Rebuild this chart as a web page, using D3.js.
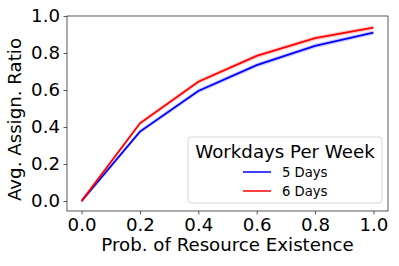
<!DOCTYPE html>
<html>
<head>
<meta charset="utf-8">
<script src="https://cdn.jsdelivr.net/npm/d3@7"></script>
<style>
  body { margin: 0; background: #fff; }
  text { font-family: "DejaVu Sans", sans-serif; fill: #000; }
</style>
</head>
<body>
<div id="chart"></div>
<script>
// Data.
const probs = [0.0, 0.2, 0.4, 0.6, 0.8, 1.0];
const days5 = [0.0, 0.375, 0.595, 0.734, 0.838, 0.91];
const days6 = [0.0, 0.42, 0.645, 0.784, 0.88, 0.937];
const band = 0.012;
const xTicks = [0.0, 0.2, 0.4, 0.6, 0.8, 1.0];
const yTicks = [0.0, 0.2, 0.4, 0.6, 0.8, 1.0];
const seriesNames = ["5 Days", "6 Days"];
const seriesColors = ["#0000ff", "#ff0000"];

const width = 399, height = 266;
const margin = { top: 16, right: 11, bottom: 55, left: 67 };
const chartWidth = width - margin.left - margin.right;
const chartHeight = height - margin.top - margin.bottom;
const fontSize = "18.2px";

const svg = d3.select("#chart").append("svg")
  .attr("width", width)
  .attr("height", height);

const g = svg.append("g")
  .attr("transform", `translate(${margin.left}, ${margin.top})`);

const x = d3.scaleLinear().domain([-0.05, 1.05]).range([0, chartWidth]);
const y = d3.scaleLinear().domain([-0.054, 1.0]).range([chartHeight, 0]);

// confidence bands + lines
[days5, days6].forEach((vals, i) => {
  const rows = probs.map((p, j) => ({ p, v: vals[j] }));
  const area = d3.area()
    .x(d => x(d.p))
    .y0(d => y(d.v - band))
    .y1(d => y(d.v + band));
  g.append("path")
    .datum(rows)
    .attr("d", area)
    .attr("fill", seriesColors[i])
    .attr("opacity", 0.2);
  g.append("path")
    .datum(rows)
    .attr("d", d3.line().x(d => x(d.p)).y(d => y(d.v)))
    .attr("fill", "none")
    .attr("stroke", seriesColors[i])
    .attr("stroke-width", 1.8);
});

// axes
const xAxis = g.append("g")
  .attr("transform", `translate(0, ${chartHeight})`)
  .call(d3.axisBottom(x).tickValues(xTicks).tickFormat(d3.format(".1f")).tickSize(3.5).tickPadding(3.5));
const yAxis = g.append("g")
  .call(d3.axisLeft(y).tickValues(yTicks).tickFormat(d3.format(".1f")).tickSize(3.5).tickPadding(3.5));
[xAxis, yAxis].forEach(a => {
  a.select(".domain").remove();
  a.selectAll("line").attr("stroke", "#333").attr("stroke-width", 0.8);
  a.selectAll("text").attr("font-size", fontSize).attr("font-family", "DejaVu Sans, sans-serif").attr("fill", "#000");
});

// frame
g.append("rect")
  .attr("width", chartWidth)
  .attr("height", chartHeight)
  .attr("fill", "none")
  .attr("stroke", "#333")
  .attr("stroke-width", 0.8);

// axis labels
svg.append("text")
  .attr("x", margin.left + chartWidth / 2)
  .attr("y", 251)
  .attr("text-anchor", "middle")
  .attr("font-size", fontSize)
  .text("Prob. of Resource Existence");

svg.append("text")
  .attr("transform", `translate(21, ${margin.top + chartHeight / 2 + 6}) rotate(-90)`)
  .attr("text-anchor", "middle")
  .attr("font-size", fontSize)
  .text("Avg. Assign. Ratio");

// legend
const legend = svg.append("g").attr("transform", "translate(188, 137)");
legend.append("rect")
  .attr("width", 194)
  .attr("height", 66)
  .attr("rx", 3)
  .attr("fill", "#fff")
  .attr("fill-opacity", 0.8)
  .attr("stroke", "#ccc")
  .attr("stroke-width", 0.8);
legend.append("text")
  .attr("x", 97)
  .attr("y", 21)
  .attr("text-anchor", "middle")
  .attr("font-size", fontSize)
  .text("Workdays Per Week");
seriesNames.forEach((name, i) => {
  const yy = 35 + i * 19;
  legend.append("line")
    .attr("x1", 55).attr("x2", 83)
    .attr("y1", yy).attr("y2", yy)
    .attr("stroke", seriesColors[i])
    .attr("stroke-width", 1.5);
  legend.append("text")
    .attr("x", 94)
    .attr("y", yy + 4.5)
    .attr("font-size", "13.2px")
    .text(name);
});
</script>
</body>
</html>
